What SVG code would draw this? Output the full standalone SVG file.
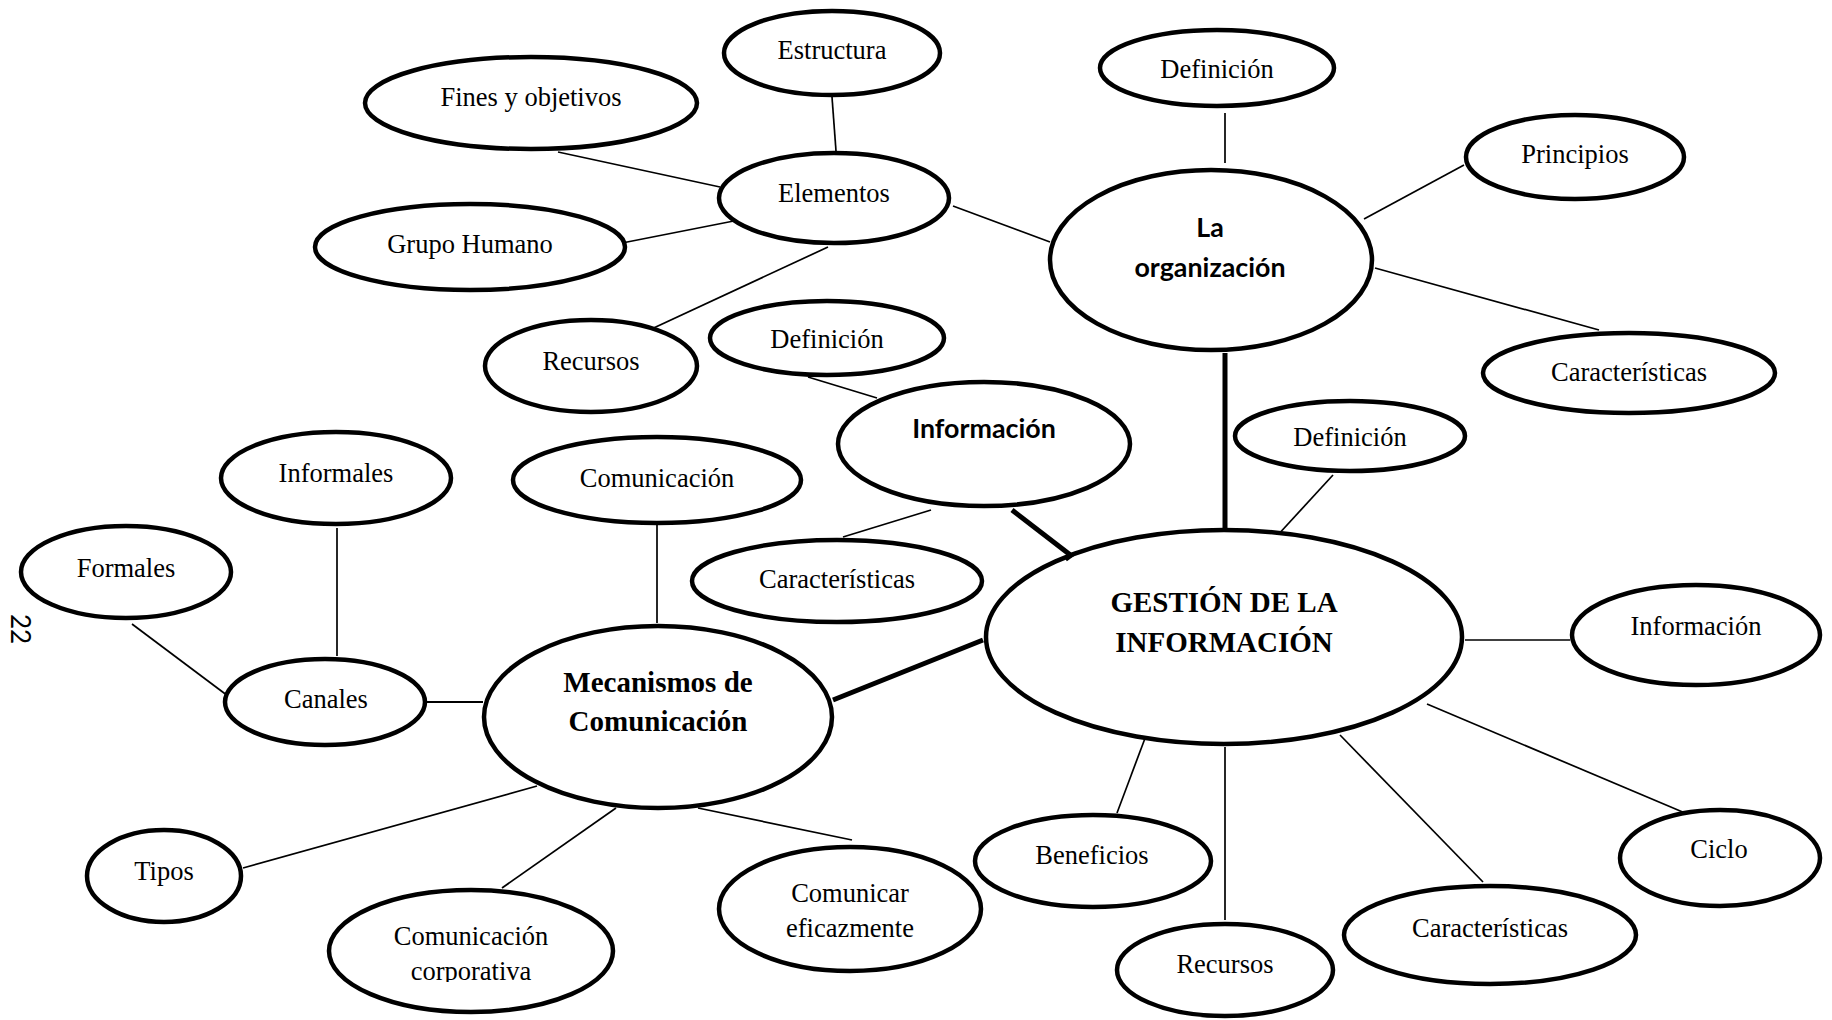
<svg xmlns="http://www.w3.org/2000/svg" width="1832" height="1020" viewBox="0 0 1832 1020">
  <defs>
    <style>
      .node ellipse { fill: #fff; stroke: #000; stroke-width: 4.5; }
      .lbl { font-family: "Liberation Serif", "Times New Roman", serif; font-size: 26.5px; text-anchor: middle; fill: #000; }
      .hub { font-family: "Liberation Serif", "Times New Roman", serif; font-size: 29px; font-weight: bold; text-anchor: middle; fill: #000; }
      .sub { font-family: Lato, "Liberation Sans", Arial, sans-serif; font-size: 26.8px; font-weight: bold; text-anchor: middle; fill: #000; }
      .pg { font-family: Lato, "Liberation Sans", Arial, sans-serif; font-size: 26px; fill: #000; }
      .thin line { stroke: #000; stroke-width: 1.7; }
      .thick line { stroke: #000; stroke-width: 5; }
    </style>
    <clipPath id="clipCorp">
      <rect x="300" y="880" width="340" height="102"/>
    </clipPath>
  </defs>
  <rect width="1832" height="1020" fill="#fff"/>

  <!-- connectors -->
  <g id="connectors">
    <g class="thin">
      <line x1="832" y1="97" x2="836" y2="151"/>
      <line x1="558" y1="152" x2="720" y2="187"/>
      <line x1="617" y1="244" x2="749" y2="218"/>
      <line x1="645" y1="332" x2="828" y2="247"/>
      <line x1="953" y1="206" x2="1050" y2="242"/>
      <line x1="1225" y1="113" x2="1225" y2="163"/>
      <line x1="1464" y1="165" x2="1364" y2="219"/>
      <line x1="1375" y1="268" x2="1599" y2="330"/>
      <line x1="808" y1="377" x2="877" y2="398"/>
      <line x1="931" y1="510" x2="843" y2="537"/>
      <line x1="1333" y1="475" x2="1276" y2="537"/>
      <line x1="1465" y1="640" x2="1570" y2="640"/>
      <line x1="1427" y1="704" x2="1685" y2="813"/>
      <line x1="1340" y1="735" x2="1483" y2="882"/>
      <line x1="1225" y1="747" x2="1225" y2="920"/>
      <line x1="1147" y1="733" x2="1117" y2="813"/>
      <line x1="657" y1="525" x2="657" y2="623"/>
      <line x1="419" y1="702" x2="483" y2="702" style="stroke-width:2.2"/>
      <line x1="337" y1="528" x2="337" y2="656"/>
      <line x1="132" y1="624" x2="232" y2="699"/>
      <line x1="243" y1="868" x2="537" y2="786"/>
      <line x1="502" y1="888" x2="616" y2="808"/>
      <line x1="698" y1="808" x2="852" y2="840"/>
    </g>
    <g class="thick">
      <line x1="1225" y1="353" x2="1225" y2="528"/>
      <line x1="1012" y1="510" x2="1073" y2="557"/>
      <line x1="833" y1="700" x2="983" y2="640"/>
    </g>
  </g>

  <!-- La organización branch -->
  <g id="estructura" class="node">
    <ellipse cx="832" cy="53" rx="108" ry="42"/>
    <text class="lbl" x="832" y="59">Estructura</text>
  </g>
  <g id="fines" class="node">
    <ellipse cx="531" cy="103" rx="166" ry="46"/>
    <text class="lbl" x="531" y="106">Fines y objetivos</text>
  </g>
  <g id="elementos" class="node">
    <ellipse cx="834" cy="198" rx="115" ry="45"/>
    <text class="lbl" x="834" y="202">Elementos</text>
  </g>
  <g id="grupo-humano" class="node">
    <ellipse cx="470" cy="247" rx="155" ry="43"/>
    <text class="lbl" x="470" y="253">Grupo Humano</text>
  </g>
  <g id="recursos-org" class="node">
    <ellipse cx="591" cy="366" rx="106" ry="46"/>
    <text class="lbl" x="591" y="370">Recursos</text>
  </g>
  <g id="definicion-org" class="node">
    <ellipse cx="1217" cy="68" rx="117" ry="38"/>
    <text class="lbl" x="1217" y="78">Definición</text>
  </g>
  <g id="organizacion" class="node">
    <ellipse cx="1211" cy="260" rx="161" ry="90"/>
    <text class="sub" x="1210" y="237">La</text>
    <text class="sub" x="1210" y="277">organización</text>
  </g>
  <g id="principios" class="node">
    <ellipse cx="1575" cy="157" rx="109" ry="42"/>
    <text class="lbl" x="1575" y="163">Principios</text>
  </g>
  <g id="caracteristicas-org" class="node">
    <ellipse cx="1629" cy="373" rx="146" ry="40"/>
    <text class="lbl" x="1629" y="381">Características</text>
  </g>

  <!-- Información branch -->
  <g id="definicion-info" class="node">
    <ellipse cx="827" cy="338" rx="117" ry="37"/>
    <text class="lbl" x="827" y="348">Definición</text>
  </g>
  <g id="informacion" class="node">
    <ellipse cx="984" cy="444" rx="146" ry="62"/>
    <text class="sub" x="984" y="438">Información</text>
  </g>
  <g id="caracteristicas-info" class="node">
    <ellipse cx="837" cy="581" rx="145" ry="41"/>
    <text class="lbl" x="837" y="588">Características</text>
  </g>

  <!-- Gestión de la información -->
  <g id="definicion-gestion" class="node">
    <ellipse cx="1350" cy="436" rx="115" ry="35"/>
    <text class="lbl" x="1350" y="446">Definición</text>
  </g>
  <g id="gestion" class="node">
    <ellipse cx="1224" cy="637" rx="238" ry="107"/>
    <text class="hub" x="1224" y="612">GESTIÓN DE LA</text>
    <text class="hub" x="1224" y="652">INFORMACIÓN</text>
  </g>
  <g id="informacion-gestion" class="node">
    <ellipse cx="1696" cy="635" rx="124" ry="50"/>
    <text class="lbl" x="1696" y="635">Información</text>
  </g>
  <g id="beneficios" class="node">
    <ellipse cx="1093" cy="861" rx="118" ry="46"/>
    <text class="lbl" x="1092" y="864">Beneficios</text>
  </g>
  <g id="recursos-gestion" class="node">
    <ellipse cx="1225" cy="970" rx="108" ry="46"/>
    <text class="lbl" x="1225" y="973">Recursos</text>
  </g>
  <g id="caracteristicas-gestion" class="node">
    <ellipse cx="1490" cy="935" rx="146" ry="49"/>
    <text class="lbl" x="1490" y="937">Características</text>
  </g>
  <g id="ciclo" class="node">
    <ellipse cx="1720" cy="858" rx="100" ry="48"/>
    <text class="lbl" x="1719" y="858">Ciclo</text>
  </g>

  <!-- Mecanismos de comunicación branch -->
  <g id="informales" class="node">
    <ellipse cx="336" cy="478" rx="115" ry="46"/>
    <text class="lbl" x="336" y="482">Informales</text>
  </g>
  <g id="comunicacion" class="node">
    <ellipse cx="657" cy="480" rx="144" ry="43"/>
    <text class="lbl" x="657" y="487">Comunicación</text>
  </g>
  <g id="formales" class="node">
    <ellipse cx="126" cy="572" rx="105" ry="46"/>
    <text class="lbl" x="126" y="577">Formales</text>
  </g>
  <g id="canales" class="node">
    <ellipse cx="325" cy="702" rx="100" ry="43"/>
    <text class="lbl" x="326" y="708">Canales</text>
  </g>
  <g id="mecanismos" class="node">
    <ellipse cx="658" cy="717" rx="174" ry="91"/>
    <text class="hub" x="658" y="692">Mecanismos de</text>
    <text class="hub" x="658" y="731">Comunicación</text>
  </g>
  <g id="tipos" class="node">
    <ellipse cx="164" cy="876" rx="77" ry="46"/>
    <text class="lbl" x="164" y="880">Tipos</text>
  </g>
  <g id="comunicacion-corporativa" class="node">
    <ellipse cx="471" cy="951" rx="142" ry="61"/>
    <g clip-path="url(#clipCorp)">
      <text class="lbl" x="471" y="945">Comunicación</text>
      <text class="lbl" x="471" y="980">corporativa</text>
    </g>
  </g>
  <g id="comunicar-eficazmente" class="node">
    <ellipse cx="850" cy="909" rx="131" ry="62"/>
    <text class="lbl" x="850" y="902">Comunicar</text>
    <text class="lbl" x="850" y="937">eficazmente</text>
  </g>

  <!-- short end ticks drawn over the outlines -->
  <g id="end-ticks" class="thick">
    <line x1="1066" y1="560" x2="1077" y2="552" style="stroke-width:3"/>
  </g>

  <!-- page number -->
  <text class="pg" transform="translate(11 629) rotate(90)" text-anchor="middle">22</text>
</svg>
